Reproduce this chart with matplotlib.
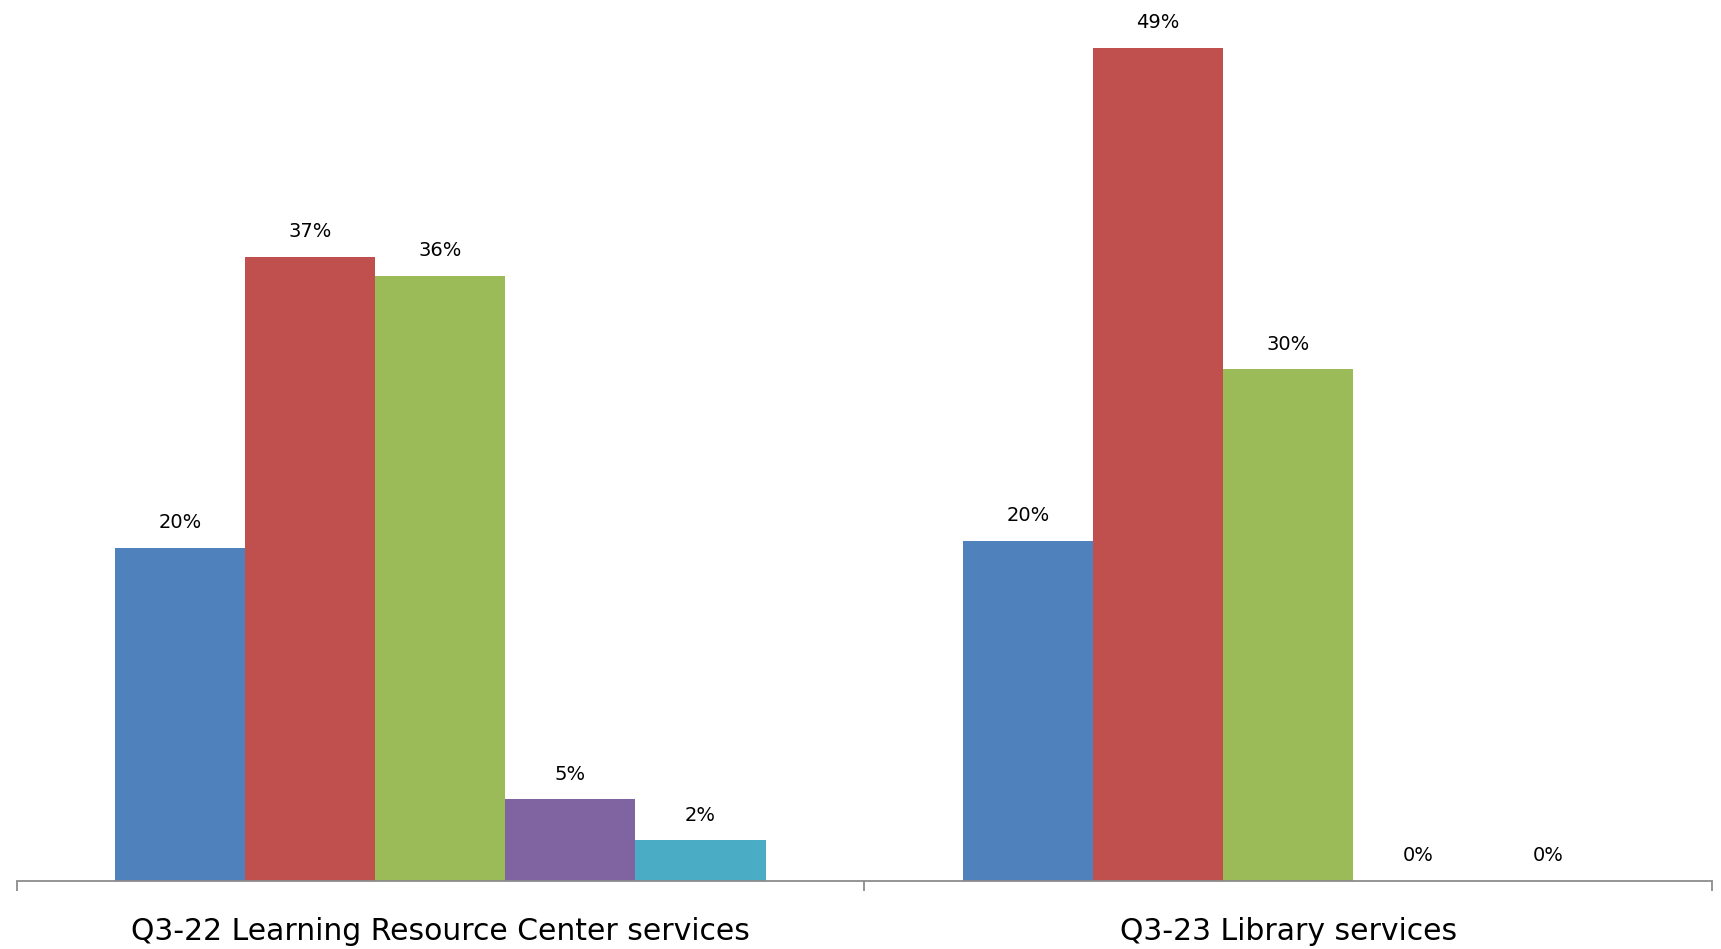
import matplotlib
matplotlib.use('Agg')
import matplotlib.pyplot as plt
import numpy as np

# survey answers, share of respondents in %
categories = ['Q3-22 Learning Resource Center services', 'Q3-23 Library services']
series_1 = [19.6, 20.0]
series_2 = [36.7, 49.0]
series_3 = [35.6, 30.1]
series_4 = [4.8, 0.0]
series_5 = [2.4, 0.0]
all_series = [series_1, series_2, series_3, series_4, series_5]
colors = ['#4F81BD', '#C0504D', '#9BBB59', '#8064A2', '#4BACC6']

fig = plt.figure(figsize=(17.21, 9.49), dpi=100)
ax = fig.add_axes([0.0096, 0.0717, 0.9852, 0.9283])

x = np.arange(len(categories))
width = 0.767 / len(all_series)

for i, vals in enumerate(all_series):
    pos = x + (i - 2) * width
    bars = ax.bar(pos, vals, width=width, color=colors[i])
    for b, v in zip(bars, vals):
        ax.annotate('%d%%' % round(v), (b.get_x() + b.get_width() / 2, v),
                    xytext=(0, 18), textcoords='offset points',
                    ha='center', va='center', fontsize=14,
                    family='DejaVu Sans', annotation_clip=False)

ax.set_xlim(-0.5, 1.5)
ax.set_ylim(0, 51.8)

for s in ['top', 'right', 'left']:
    ax.spines[s].set_visible(False)
ax.spines['bottom'].set_color('#8c8c8c')
ax.spines['bottom'].set_linewidth(1.3)
ax.set_yticks([])

# category labels centred, tick marks between groups
ax.set_xticks(x)
ax.set_xticklabels(categories, fontsize=21.5, family='DejaVu Sans')
ax.tick_params(axis='x', which='major', length=0, pad=26)
ax.set_xticks([-0.5, 0.5, 1.5], minor=True)
ax.tick_params(axis='x', which='minor', length=7, width=1.3, color='#8c8c8c')

fig.savefig('out.png', dpi=100)
